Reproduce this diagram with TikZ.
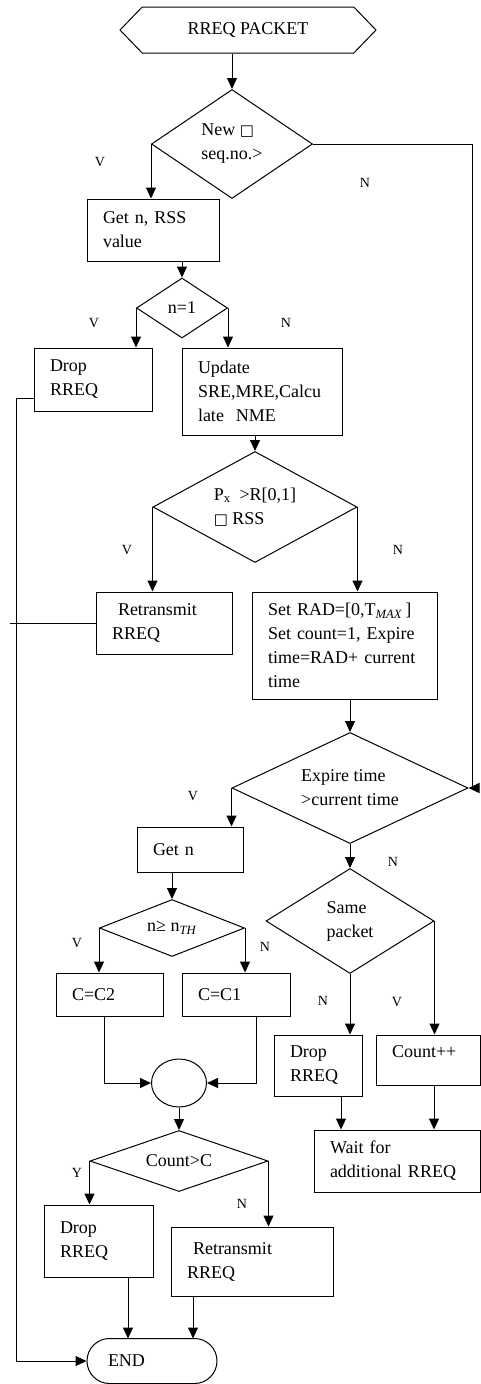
\documentclass[tikz,border=0pt]{standalone}
\usepackage{fontspec}
\setmainfont{Liberation Serif}
\newfontfamily\boxfont{DejaVu Sans}
\usetikzlibrary{arrows.meta, shapes.geometric, shapes.symbols, shapes.misc}
\newcommand{\sq}{{\boxfont\fontsize{15}{15}\selectfont □}}

\begin{document}
\begin{tikzpicture}[x=1pt, y=-1pt, line width=1pt,
  every node/.style={font=\fontsize{18}{24}\selectfont},
  arr/.style={-{Triangle[length=11pt,width=10pt]}},
  box/.style={draw, rectangle, align=left, inner xsep=16pt, inner ysep=0pt},
  dec/.style={draw, diamond, inner sep=0pt, align=left},
  lbl/.style={font=\fontsize{14}{14}\selectfont, inner sep=0pt}]
\useasboundingbox (0,0) rectangle (481,1384);
\node[draw, signal, signal to=west and east, signal pointer angle=92,
  minimum width=256, minimum height=46, inner sep=0pt] (pkt) at (248,30) {RREQ PACKET};
\node[dec, minimum width=161, minimum height=109, aspect=1.48] (newseq) at (232,144) {New \sq\\seq.no.>};
\node[box, text width=100, minimum height=62] (getrss) at (153,230) {Get n, RSS\\value};
\node[dec, minimum width=91, minimum height=60, aspect=1.52] (none) at (182,308) {n=1};
\node[box, text width=86, minimum height=63] (dropa) at (93,379.5) {Drop\\RREQ};
\node[box, text width=128, minimum height=87] (update) at (262,391.5) {Update\\SRE,MRE,Calcu\\late\ \ NME};
\node[dec, minimum width=204, minimum height=111, aspect=1.84] (prob) at (255,507) {P\textsubscript{x}\ \ >R[0,1]\\\sq\ RSS};
\node[box, text width=104, minimum height=62] (retxa) at (164,623) {\ Retransmit\\RREQ};
\node[box, text width=153, minimum height=107] (setrad) at (344.5,645.5) {Set RAD=[0,T\textsubscript{\textit{MAX}}\,]\\Set count=1, Expire\\time=RAD+ current\\time};
\node[dec, minimum width=236, minimum height=111, aspect=2.13] (expire) at (350,788) {Expire time\\>current time};
\node[box, text width=74, minimum height=45] (getn) at (190,849.5) {Get n};
\node[dec, minimum width=145, minimum height=57, aspect=2.54] (nth) at (172,928) {n≥ n\textsubscript{\textit{TH}}};
\node[dec, minimum width=168, minimum height=105, aspect=1.6] (same) at (350,921) {Same\\packet};
\node[box, text width=75, minimum height=43] (cctwo) at (109.5,994.5) {C=C2};
\node[box, text width=76, minimum height=43] (ccone) at (236,994.5) {C=C1};
\node[draw, ellipse, minimum width=55, minimum height=48, inner sep=0pt] (merge) at (179,1083) {};
\node[dec, minimum width=178, minimum height=61, aspect=2.92] (count) at (179,1161) {Count>C};
\node[box, text width=56, minimum height=61] (dropb) at (318,1065.5) {Drop\\RREQ};
\node[box, text width=72, text height=22, text depth=28] (countpp) at (428,1060) {Count++};
\node[box, text width=134, minimum height=62] (wait) at (397,1161) {Wait for\\additional RREQ};
\node[box, text width=77, minimum height=72] (dropc) at (98.5,1241) {Drop\\RREQ};
\node[box, text width=130, minimum height=69] (retxb) at (252,1261.5) {\ Retransmit\\RREQ};
\node[draw, rounded rectangle, minimum height=45, minimum width=130, text width=88, align=left, inner xsep=0pt] (finish) at (152,1361) {END};
\coordinate (railr) at (472,788);
\coordinate (raill) at (16,1361);
\coordinate (enda) at (128,1338.5);
\coordinate (endb) at (193,1338.5);
\draw[arr] (newseq.north |- pkt.south) -- (newseq.north);
\draw[arr] (newseq.west) -- (newseq.west |- getrss.north);
\draw[arr] (newseq.east) -| (railr) -- (expire.east);
\draw[arr] (none.north |- getrss.south) -- (none.north);
\draw[arr] (none.west) -- (none.west |- dropa.north);
\draw[arr] (none.east) -- (none.east |- update.north);
\draw[arr] ([yshift=-19pt]dropa.west) -| (raill) -- (finish.west);
\draw[arr] (prob.north |- update.south) -- (prob.north);
\draw[arr] (prob.west) -- (prob.west |- retxa.north);
\draw[arr] (prob.east) -- (prob.east |- setrad.north);
\draw (retxa.west) -- ([xshift=-6pt]raill |- retxa.west);
\draw[arr] (expire.north |- setrad.south) -- (expire.north);
\draw[arr] (expire.west) -- (expire.west |- getn.north);
\draw[arr] (expire.south) -- (same.north);
\draw[arr] (nth.north |- getn.south) -- (nth.north);
\draw[arr] (nth.west) -- (nth.west |- cctwo.north);
\draw[arr] (nth.east) -- (nth.east |- ccone.north);
\draw[arr] ([xshift=-5pt]cctwo.south) |- (merge.west);
\draw[arr] ([xshift=20pt]ccone.south) |- (merge.east);
\draw[arr] (merge.south) -- (count.north);
\draw[arr] (count.west) -- (count.west |- dropc.north);
\draw[arr] (count.east) -- (count.east |- retxb.north);
\draw[arr] (same.south) -- (same.south |- dropb.north);
\draw[arr] (same.east) -- (same.east |- countpp.north);
\draw[arr] ([xshift=23pt]dropb.south) -- ([xshift=23pt]dropb.south |- wait.north);
\draw[arr] ([xshift=6pt]countpp.south) -- ([xshift=6pt]countpp.south |- wait.north);
\draw[arr] (enda |- dropc.south) -- (enda);
\draw[arr] (endb |- retxb.south) -- (endb);
\foreach \t/\px/\py [count=\k] in {V/100/162, N/365/183, V/94/323, N/286/323, V/127/550, N/398/550,
  V/193/796, N/393/862, V/77/943, N/265/947, N/323/1001, V/397/1002, Y/77/1173, N/242/1204}
  \node[lbl] (lbl\k) at (\px,\py) {\t};
\end{tikzpicture}
\end{document}
